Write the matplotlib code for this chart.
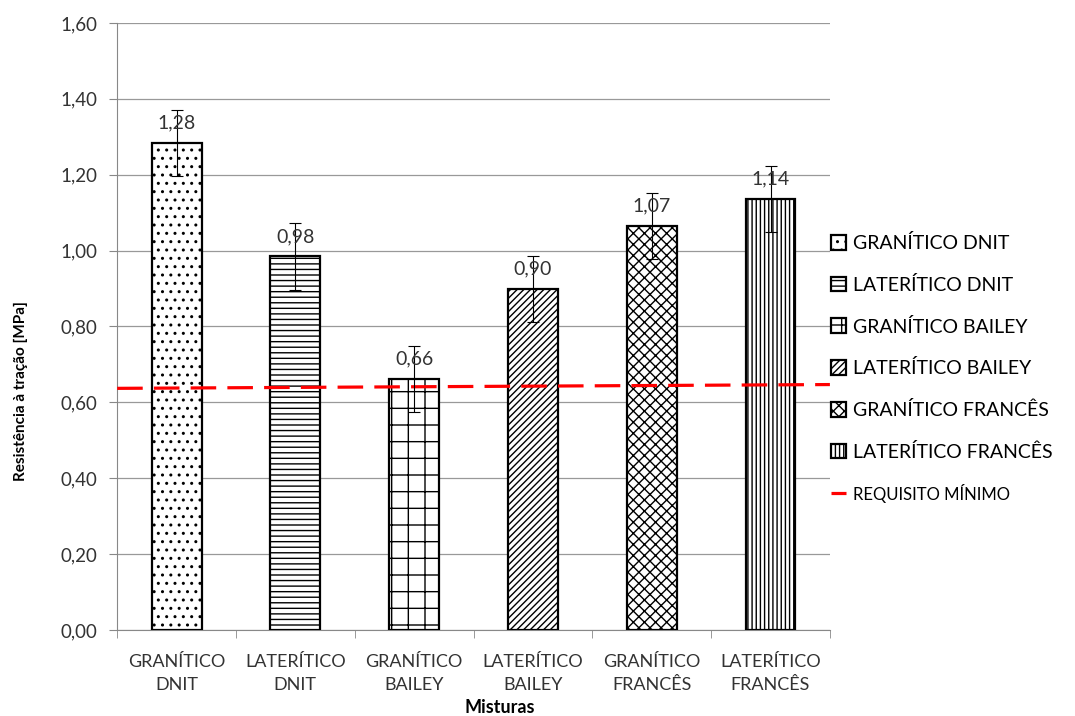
import numpy as np
import matplotlib
matplotlib.use("Agg")
import matplotlib.pyplot as plt

plt.rcParams["font.family"] = ["Lato", "DejaVu Sans"]
plt.rcParams["hatch.linewidth"] = 1.0

# data
misturas = ["GRANÍTICO DNIT", "LATERÍTICO DNIT", "GRANÍTICO BAILEY",
            "LATERÍTICO BAILEY", "GRANÍTICO FRANCÊS", "LATERÍTICO FRANCÊS"]
resistencia = [1.284, 0.985, 0.662, 0.899, 1.065, 1.137]
erro = [0.087, 0.088, 0.087, 0.087, 0.087, 0.087]
rotulos = ["1,28", "0,98", "0,66", "0,90", "1,07", "1,14"]
requisito = [0.637, 0.647]  # start / end of the red dashed line
hatches = ["..", "---", "+", "/////", "xxx", "||||"]

fig = plt.figure(figsize=(10.75, 7.16), dpi=100)
ax = fig.add_axes([0.109, 0.120, 0.663, 0.848])

x = np.arange(len(misturas))
barras = []
for i in range(len(misturas)):
    b = ax.bar(x[i], resistencia[i], width=0.42, color="white", edgecolor="black",
               linewidth=1.6, hatch=hatches[i], label=misturas[i], zorder=3)
    barras.append(b)
ax.errorbar(x, resistencia, yerr=erro, fmt="none", ecolor="black",
            elinewidth=0.8, capsize=4, capthick=0.8, zorder=5)
for i in range(len(misturas)):
    ax.text(x[i], resistencia[i] + 0.03, rotulos[i], ha="center", va="bottom",
            fontsize=14, color="#333333", zorder=6)

linha, = ax.plot([-0.5, len(misturas) - 0.5], requisito, color="#ff0000", lw=2.3,
                 dashes=(8, 3.5), label="REQUISITO MÍNIMO", zorder=4)

ax.set_xlim(-0.5, len(misturas) - 0.5)
ax.set_ylim(0, 1.6)
ax.set_yticks(np.arange(0, 1.61, 0.2))
ax.set_yticklabels([f"{v:.2f}".replace(".", ",") for v in np.arange(0, 1.61, 0.2)],
                   fontsize=13.5, color="#333333")
ax.set_xticks(x)
ax.set_xticklabels([m.replace(" ", "\n") for m in misturas], fontsize=13,
                   color="#333333", linespacing=1.6)
ax.set_xticks(np.arange(-0.5, len(misturas)), minor=True)
ax.tick_params(axis="x", which="major", length=0, pad=17)
ax.tick_params(axis="x", which="minor", length=6, color="#888888")
ax.tick_params(axis="y", length=6, color="#888888", pad=8)
ax.grid(axis="y", color="#999999", lw=0.9, zorder=0)
for s in ["top", "right"]:
    ax.spines[s].set_visible(False)
for s in ["left", "bottom"]:
    ax.spines[s].set_color("#888888")

ax.set_ylabel("Resistência à tração [MPa]", fontsize=11, fontweight="bold")
ax.yaxis.set_label_coords(-0.125, 0.394)
ax.set_xlabel("Misturas", fontsize=13, fontweight="bold")
ax.xaxis.set_label_coords(0.537, -0.113)

leg = ax.legend(handles=barras + [linha], loc="upper left",
                bbox_to_anchor=(0.99, 0.665), frameon=False, borderaxespad=0,
                fontsize=14, handlelength=0.8, handleheight=0.8,
                labelspacing=1.22, handletextpad=0.35)
leg.get_texts()[-1].set_fontsize(12)

fig.savefig("out.png", dpi=100)
